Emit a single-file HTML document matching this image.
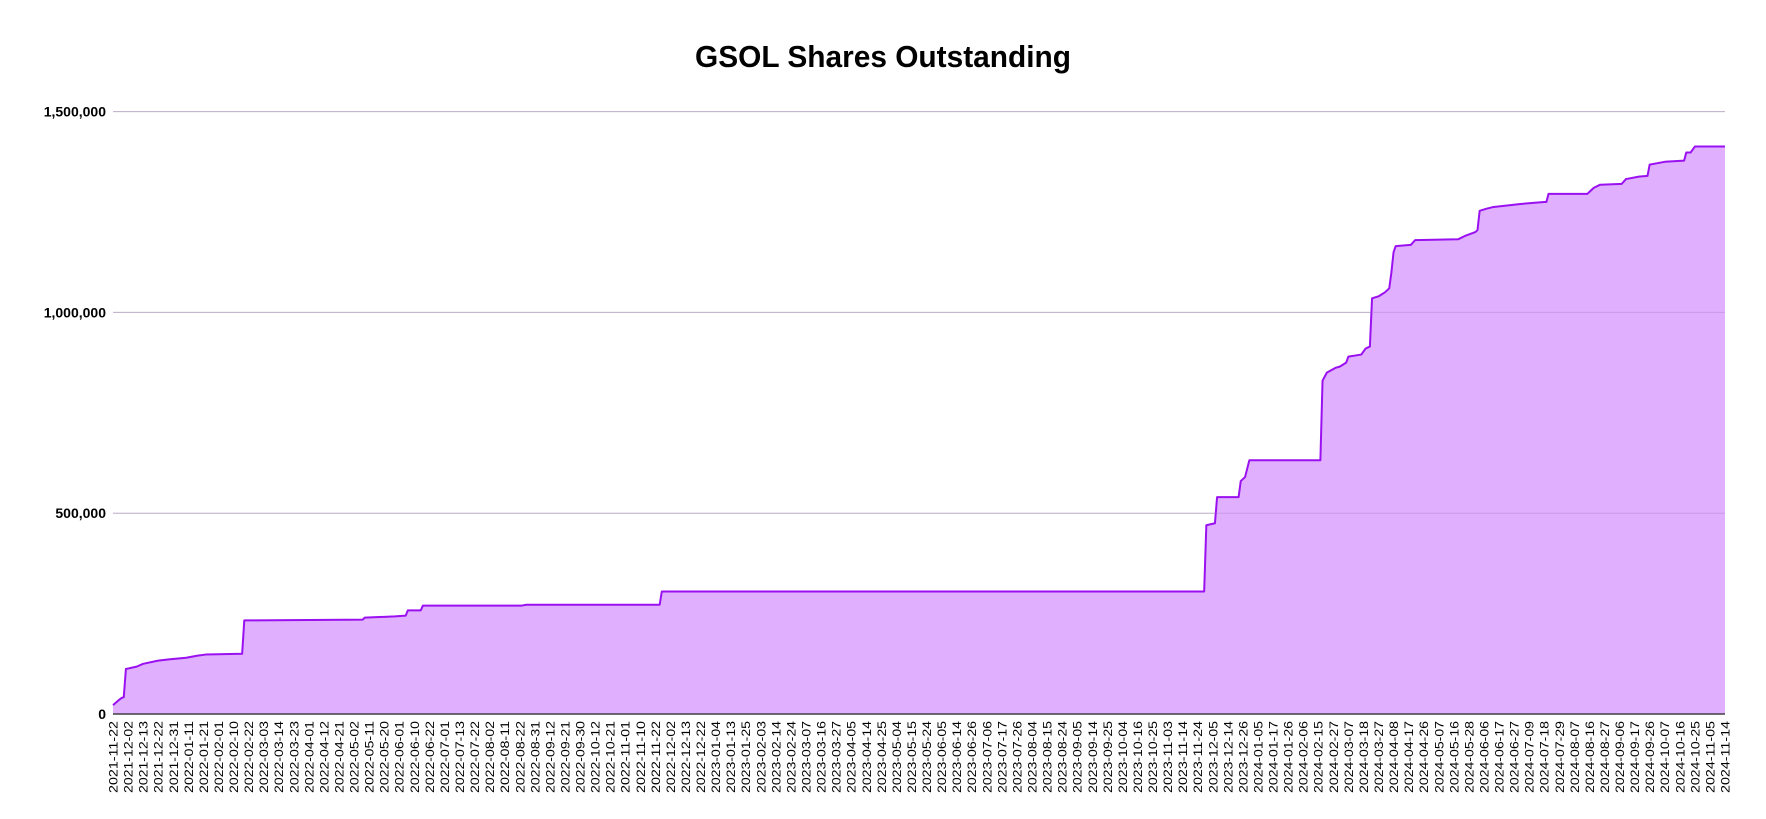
<!DOCTYPE html>
<html><head><meta charset="utf-8"><style>
html,body{margin:0;padding:0;background:#fff;}
svg{display:block;font-family:"Liberation Sans",sans-serif;}
</style></head><body>
<svg id="chart" width="1766" height="819" viewBox="0 0 1766 819" xmlns="http://www.w3.org/2000/svg">
<text x="883" y="67" text-anchor="middle" font-size="31" font-weight="bold" fill="#000" textLength="376" lengthAdjust="spacingAndGlyphs">GSOL Shares Outstanding</text>
<g id="grid"></g><g id="area"></g><g id="grid2"></g><g id="yt"></g><g id="xt"></g>
</svg>
<script>
const xLabels = ["2021-11-22","2021-12-02","2021-12-13","2021-12-22","2021-12-31","2022-01-11","2022-01-21","2022-02-01","2022-02-10","2022-02-22","2022-03-03","2022-03-14","2022-03-23","2022-04-01","2022-04-12","2022-04-21","2022-05-02","2022-05-11","2022-05-20","2022-06-01","2022-06-10","2022-06-22","2022-07-01","2022-07-13","2022-07-22","2022-08-02","2022-08-11","2022-08-22","2022-08-31","2022-09-12","2022-09-21","2022-09-30","2022-10-12","2022-10-21","2022-11-01","2022-11-10","2022-11-22","2022-12-02","2022-12-13","2022-12-22","2023-01-04","2023-01-13","2023-01-25","2023-02-03","2023-02-14","2023-02-24","2023-03-07","2023-03-16","2023-03-27","2023-04-05","2023-04-14","2023-04-25","2023-05-04","2023-05-15","2023-05-24","2023-06-05","2023-06-14","2023-06-26","2023-07-06","2023-07-17","2023-07-26","2023-08-04","2023-08-15","2023-08-24","2023-09-05","2023-09-14","2023-09-25","2023-10-04","2023-10-16","2023-10-25","2023-11-03","2023-11-14","2023-11-24","2023-12-05","2023-12-14","2023-12-26","2024-01-05","2024-01-17","2024-01-26","2024-02-06","2024-02-15","2024-02-27","2024-03-07","2024-03-18","2024-03-27","2024-04-08","2024-04-17","2024-04-26","2024-05-07","2024-05-16","2024-05-28","2024-06-06","2024-06-17","2024-06-27","2024-07-09","2024-07-18","2024-07-29","2024-08-07","2024-08-16","2024-08-27","2024-09-06","2024-09-17","2024-09-26","2024-10-07","2024-10-16","2024-10-25","2024-11-05","2024-11-14"];
const yTicks = [0,500000,1000000,1500000];
const yTickLabels = ["0","500,000","1,000,000","1,500,000"];
const dayIndex = [0,3,4,5,6,11,14,21,26,34,39,43,60,61,116,117,131,136,137,143,144,190,192,254,255,507,508,512,513,523,524,526,528,561,562,564,568,570,573,574,580,582,584,585,588,591,593,594,595,596,603,605,625,628,633,634,635,638,641,654,665,666,667,685,687,688,691,701,703,709,713,714,721,730,731,733,735,749];
const sharesK = [22,36,40,42,112,118,125,133,136,140,145,148,150,233,235,240,243,245,258,258,270,270,272,272,305,305,470,475,540,540,580,590,632,632,830,850,862,865,875,890,895,910,915,1035,1040,1050,1060,1100,1150,1165,1168,1180,1182,1190,1200,1205,1253,1258,1262,1270,1275,1275,1295,1295,1305,1310,1318,1320,1332,1338,1340,1368,1375,1378,1398,1398,1413,1413];
const totalDays = 749;
const X0=113, X1=1725, Y0=714, Y1=111.6, YMAX=1500000;
const NS="http://www.w3.org/2000/svg";
const xs = d => X0 + (X1-X0)*d/totalDays;
const ys = v => Y0 - (Y0-Y1)*v/YMAX;
function mk(tag, attrs, parent){const e=document.createElementNS(NS,tag);for(const k in attrs)e.setAttribute(k,attrs[k]);parent.appendChild(e);return e;}
const grid=document.getElementById('grid'), grid2=document.getElementById('grid2'), area=document.getElementById('area'), yt=document.getElementById('yt'), xt=document.getElementById('xt');
yTicks.forEach((v,i)=>{
  if(v>0){
    const l=mk('line',{x1:X0,x2:X1,y1:ys(v),y2:ys(v),stroke:'#d0d0d0','stroke-width':1},grid);
    
    
    const l2=mk('line',{x1:X0,x2:X1,y1:ys(v),y2:ys(v),stroke:'#a070c0','stroke-opacity':0.35,'stroke-width':1},grid2);
    
    
  }
  const t=mk('text',{x:106,y:ys(v)+5,'text-anchor':'end','font-size':14,'font-weight':'bold',fill:'#000'},yt);
  t.textContent=yTickLabels[i];
  
  
});
let pts=dayIndex.map((d,i)=>xs(d).toFixed(2)+','+ys(sharesK[i]*1000).toFixed(2));
const fill=mk('polygon',{points:xs(0)+','+Y0+' '+pts.join(' ')+' '+xs(totalDays)+','+Y0,fill:'#e0b0fe',stroke:'none'},area);


const line=mk('polyline',{points:pts.join(' '),fill:'none',stroke:'#9a10f0','stroke-width':2,'stroke-linejoin':'round'},area);


const ax=mk('line',{x1:X0,x2:X1,y1:Y0,y2:Y0,stroke:'#404040','stroke-width':1.5},grid2);


const step=(X1-X0)/(xLabels.length-1);
xLabels.forEach((s,i)=>{
  const x=X0+step*i;
  const t=mk('text',{transform:`translate(${x+4.5},721) rotate(-90)`,'text-anchor':'end','font-size':12,fill:'#000',textLength:72,lengthAdjust:'spacingAndGlyphs'},xt);
  t.textContent=s;
  
  
});
</script>
</body></html>
